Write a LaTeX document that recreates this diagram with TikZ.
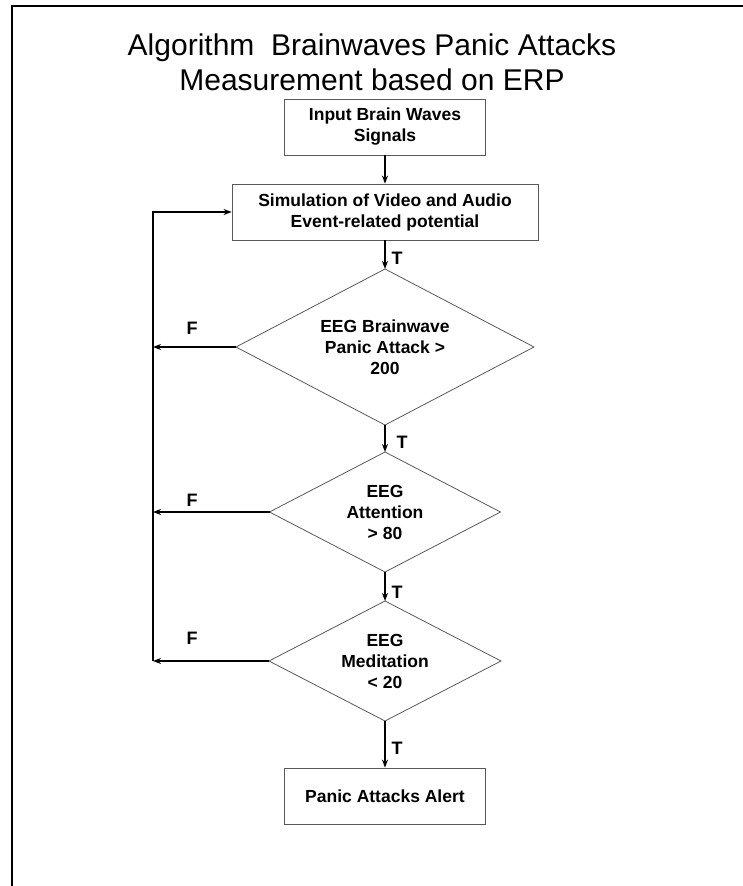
\documentclass[tikz,border=0pt]{standalone}
\usepackage{fontspec}
\setmainfont{Liberation Sans}
\usepackage{tikz}
\usetikzlibrary{shapes.geometric, arrows.meta}

\begin{document}
\begin{tikzpicture}[x=1pt, y=-1pt,
    procbox/.style={draw=black!65, line width=0.8pt, rectangle, align=center, inner sep=0pt,
        font=\bfseries\fontsize{17.5}{21}\selectfont},
    testbox/.style={draw=black!65, line width=0.8pt, diamond, align=center, inner sep=0pt,
        outer sep=0pt, font=\bfseries\fontsize{17.5}{21}\selectfont},
    flow/.style={line width=1.3pt, -{Stealth[length=8pt, width=6pt]}},
    flowlabel/.style={font=\bfseries\fontsize{18}{21}\selectfont}]
    \useasboundingbox (0, 0) rectangle (743, 886);
    % frame
    \draw[line width=2pt] (12, 886) -- (12, 6) -- (743, 6);
    % title
    \node[align=center, font=\fontsize{30}{35}\selectfont] at (372, 62) (title)
        {Algorithm\ \ Brainwaves Panic Attacks\\Measurement based on ERP};
    % boxes
    \node[procbox, minimum width=201, minimum height=56] at (385, 127) (input) {Input Brain Waves\\Signals};
    \node[procbox, minimum width=306, minimum height=56] at (385, 212) (erp) {Simulation of Video and Audio\\Event-related potential};
    \node[testbox, aspect=1.91, minimum width=298, minimum height=156] at (385, 347) (panic) {EEG Brainwave\\Panic Attack >\\200};
    \node[testbox, aspect=1.93, minimum width=231, minimum height=120] at (385, 512) (attn) {EEG\\Attention\\> 80};
    \node[testbox, aspect=1.93, minimum width=232, minimum height=120] at (385, 661) (medi) {EEG\\Meditation\\< 20};
    \node[procbox, minimum width=201, minimum height=56] at (385, 796) (alert) {Panic Attacks Alert};
    % true path
    \draw[flow] (input) -- (erp);
    \draw[flow] (erp) -- (panic);
    \draw[flow] (panic) -- (attn);
    \draw[flow] (attn) -- (medi);
    \draw[flow] (medi) -- (alert);
    \node[flowlabel] at (397, 258) (t1) {T};
    \node[flowlabel] at (402, 442) (t2) {T};
    \node[flowlabel] at (397, 592) (t3) {T};
    \node[flowlabel] at (397, 748) (t4) {T};
    % false path
    \coordinate (f1) at (153, 347);
    \coordinate (f2) at (153, 512);
    \coordinate (f3) at (153, 661);
    \draw[flow] (panic.west) -- (f1);
    \draw[flow] (attn.west) -- (f2);
    \draw[flow] (medi.west) -- (f3);
    \draw[flow] (f3) -- (153, 212) -- (erp.west);
    \node[flowlabel] at (192, 328) (fl1) {F};
    \node[flowlabel] at (192, 500) (fl2) {F};
    \node[flowlabel] at (192, 638) (fl3) {F};
\end{tikzpicture}
\end{document}
